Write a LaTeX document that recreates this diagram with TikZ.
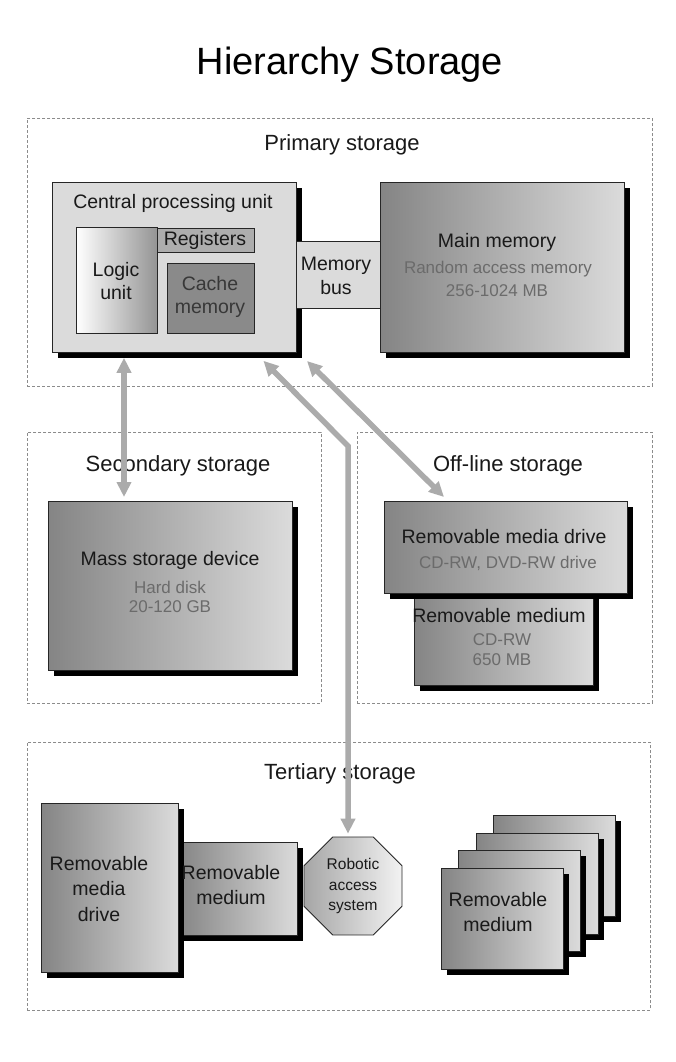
\documentclass[tikz,border=0pt]{standalone}
\usepackage{fontspec}
\setmainfont{Liberation Sans}
\usetikzlibrary{shapes.geometric,shadows,arrows.meta,calc}
\newcommand{\fs}[1]{\fontsize{#1}{#1}\selectfont}
\tikzset{
  region/.style={draw=black!45, dash pattern=on 3pt off 2pt, line width=0.8pt, rectangle, inner sep=0pt, anchor=north west},
  box/.style={draw=black!85, line width=0.8pt, rectangle, inner sep=0pt, anchor=north west,
    drop shadow={shadow xshift=6pt, shadow yshift=-6pt, fill=black, opacity=1}},
  plainbox/.style={draw=black!85, line width=0.8pt, rectangle, inner sep=0pt, anchor=north west},
  grad/.style={left color=black!48, right color=black!14},
  lbl/.style={font=\fs{22}, text=black!90},
  head/.style={font=\fs{19.5}, text=black!90, align=center},
  sub/.style={font=\fs{17}, text=black!58, align=center},
  conn/.style={draw=black!33, line width=5.5pt, {Triangle[length=15pt,width=14pt]}-{Triangle[length=15pt,width=14pt]}}
}
\begin{document}
\begin{tikzpicture}[x=1pt,y=-1pt]
\useasboundingbox[fill=white] (0,0) rectangle (676,1062);

\node[font=\fs{38}] (title) at (350,65) {Hierarchy Storage};

% ---------- Primary storage
\node[region, minimum width=625pt, minimum height=268pt] (prim) at (27,118) {};
\node[lbl] (primlbl) at (342,145) {Primary storage};
\node[box, fill=black!14, minimum width=244pt, minimum height=170pt] (cpu) at (52,182) {};
\node[head] (cputxt) at (173,203) {Central processing unit};
\node[plainbox, left color=white, right color=black!42, minimum width=81pt, minimum height=106pt] (logic) at (76,227) {};
\node[head] (logictxt) at (116,281) {Logic\\[3pt]unit};
\node[plainbox, fill=black!32, minimum width=97pt, minimum height=24pt] (reg) at (157,228) {};
\node[head] (regtxt) at (205,240) {Registers};
\node[plainbox, fill=black!46, minimum width=87pt, minimum height=70pt] (cache) at (167,263) {};
\node[head, text=black!78] (cachetxt) at (210,297) {Cache\\[4pt]memory};
\node[plainbox, fill=black!14, minimum width=84pt, minimum height=67pt] (bus) at (296,241) {};
\node[head] (bustxt) at (336,276) {Memory\\[5pt]bus};
\node[box, grad, minimum width=244pt, minimum height=170pt] (main) at (380,182) {};
\node[head] (maintxt) at (497,242) {Main memory};
\node[sub] (maintxt2) at (498,269) {Random access memory};
\node[sub] (maintxt3) at (497,291) {256-1024 MB};

% ---------- Secondary storage
\node[region, minimum width=294pt, minimum height=271pt] (sec) at (27,432) {};
\node[lbl] (seclbl) at (178,466) {Secondary storage};
\node[box, grad, minimum width=244pt, minimum height=169pt] (mass) at (48,501) {};
\node[head] (masstxt) at (170,560) {Mass storage device};
\node[sub] (masstxt2) at (170,587) {Hard disk};
\node[sub] (masstxt3) at (170,607) {20-120 GB};

% ---------- Off-line storage
\node[region, minimum width=295pt, minimum height=271pt] (off) at (357,432) {};
\node[lbl] (offlbl) at (508,466) {Off-line storage};
\node[box, grad, minimum width=179pt, minimum height=92pt] (offmed) at (414,593) {};
\node[box, grad, minimum width=243pt, minimum height=92pt] (offdrv) at (384,501) {};
\node[head] (offdrvtxt) at (504,537) {Removable media drive};
\node[sub] (offdrvtxt2) at (508,563) {CD-RW, DVD-RW drive};
\node[head] (offmedtxt) at (499,616) {Removable medium};
\node[sub] (offmedtxt2) at (502,640) {CD-RW};
\node[sub] (offmedtxt3) at (502,660) {650 MB};

% ---------- Tertiary storage
\node[region, minimum width=623pt, minimum height=268pt] (ter) at (27,742) {};
\node[lbl] (terlbl) at (340,774) {Tertiary storage};
\node[box, grad, minimum width=119pt, minimum height=93pt] (termed) at (178,842) {};
\node[box, grad, minimum width=137pt, minimum height=169pt] (terdrv) at (41,803) {};
\node[head] (terdrvtxt) at (99,889) {Removable\\[6pt]media\\[6pt]drive};
\node[head] (termedtxt) at (231,885) {Removable\\[5pt]medium};
\node[draw=black!85, line width=0.8pt, regular polygon, regular polygon sides=8, minimum size=106pt,
      left color=black!35, right color=black!5, inner sep=0pt] (robot) at (353,886) {};
\node[font=\fs{15.5}, align=center, text=black!90] (robottxt) at (353,886) {Robotic\\[5pt]access\\[5pt]system};
\node[box, grad, minimum width=122pt, minimum height=101pt] (stack4) at (493,815) {};
\node[box, grad, minimum width=122pt, minimum height=101pt] (stack3) at (476,833) {};
\node[box, grad, minimum width=122pt, minimum height=101pt] (stack2) at (458,850) {};
\node[box, grad, minimum width=122pt, minimum height=101pt] (stack1) at (441,868) {};
\node[head] (stacktxt) at (498,912) {Removable\\[5pt]medium};

% ---------- connectors
\coordinate (a1x) at (124,0);
\coordinate (bend) at (348,446);
\coordinate (t3) at (307,361);
\coordinate (e3) at (444,497);
\draw[conn] ([yshift=-5pt]cpu.south -| a1x) -- ([yshift=4pt]mass.north -| a1x);
\draw[conn] ([xshift=89pt,yshift=-8pt]cpu.south) -- (bend) -- ([yshift=3pt]robot.north -| bend);
\draw[conn] (t3) -- (e3);
\end{tikzpicture}
\end{document}
